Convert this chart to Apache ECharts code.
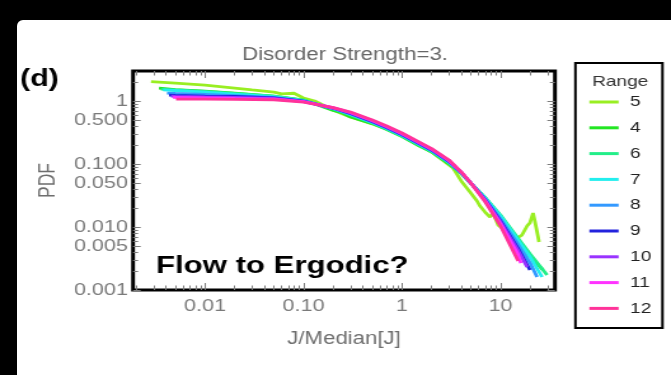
<!DOCTYPE html>
<html>
<head>
<meta charset="utf-8">
<script src="https://cdn.jsdelivr.net/npm/echarts@6/dist/echarts.min.js"></script>
<style>
  html, body { margin: 0; padding: 0; width: 671px; height: 375px; background: #000; overflow: hidden; }
  #paper { position: absolute; left: 17px; top: 20px; right: 0; bottom: 0; background: #fff; border-top-left-radius: 6px; }
  #chart { position: absolute; left: 0; top: 0; width: 528px; height: 375px; transform: scaleX(1.2708); transform-origin: 0 0; }
</style>
</head>
<body>
<div id="paper"></div>
<div id="chart"></div>
<script>
// Legend entries (system range) and their line colours
const rangeNames  = ['5', '4', '6', '7', '8', '9', '10', '11', '12'];
const rangeColors = ['#99ee22', '#22e622', '#22ee88', '#22eeee', '#3399ff', '#2222dd', '#9933ff', '#ff33ff', '#ff3399'];

// PDF curves: pairs of [J/Median[J], PDF]
const range5 = [[0.00283, 2.04], [0.005, 1.93], [0.01, 1.79], [0.02, 1.61], [0.03, 1.50], [0.05, 1.39], [0.06, 1.30],
  [0.08, 1.33], [0.1, 1.12], [0.13, 1.00], [0.2, 0.720], [0.25, 0.622], [0.3, 0.557], [0.5, 0.431], [0.7, 0.359],
  [1, 0.278], [1.5, 0.200], [2, 0.155], [3, 0.0964], [3.3, 0.0864], [4.06, 0.0518], [4.9, 0.0359], [5.77, 0.0259],
  [6.19, 0.0215], [6.96, 0.0173], [7.82, 0.0144], [8.39, 0.0167], [9.43, 0.0108], [11.6, 0.00834], [13.1, 0.00720],
  [14.7, 0.00669], [16.5, 0.00746], [18.6, 0.0104], [19.9, 0.0116], [21.4, 0.0167], [22.4, 0.0120], [23.5, 0.00834],
  [24.6, 0.00578]];
const range4 = [[0.00341, 1.61], [0.005, 1.52], [0.01, 1.44], [0.02, 1.34], [0.05, 1.20], [0.1, 1.037], [0.2, 0.707],
  [0.25, 0.645], [0.3, 0.557], [0.5, 0.439], [0.7, 0.353], [1, 0.273], [1.5, 0.193], [2, 0.155], [3, 0.100],
  [4, 0.0707], [5, 0.0490], [7, 0.0289], [10, 0.0150], [15, 0.00622], [20, 0.00334], [27.0, 0.00208]];
const range6 = [[0.00357, 1.55], [0.005, 1.50], [0.01, 1.42], [0.02, 1.32], [0.05, 1.20], [0.1, 1.037], [0.2, 0.746],
  [0.3, 0.599], [0.5, 0.447], [0.7, 0.359], [1, 0.278], [1.5, 0.200], [2, 0.158], [3, 0.104], [4, 0.0707],
  [5, 0.0499], [7, 0.0294], [10, 0.0155], [15, 0.00669], [20, 0.00373], [29.7, 0.00173]];
const range7 = [[0.00375, 1.50], [0.005, 1.47], [0.01, 1.39], [0.02, 1.29], [0.05, 1.18], [0.1, 1.018], [0.2, 0.760],
  [0.3, 0.610], [0.5, 0.456], [0.7, 0.366], [1, 0.283], [1.5, 0.204], [2, 0.161], [3, 0.106], [4, 0.0720],
  [5, 0.0499], [7, 0.0289], [10, 0.0150], [15, 0.00622], [20, 0.00334], [26.4, 0.00161]];
const range8 = [[0.00411, 1.34], [0.005, 1.32], [0.01, 1.27], [0.02, 1.22], [0.05, 1.14], [0.1, 1.0], [0.2, 0.760],
  [0.3, 0.622], [0.5, 0.464], [0.7, 0.373], [1, 0.289], [1.5, 0.208], [2, 0.164], [3, 0.108], [4, 0.0720],
  [5, 0.0499], [7, 0.0278], [10, 0.0134], [15, 0.00537], [20, 0.00268], [23.5, 0.00161]];
const range9 = [[0.00431, 1.245], [0.005, 1.23], [0.01, 1.20], [0.02, 1.18], [0.05, 1.12], [0.1, 1.0], [0.2, 0.774],
  [0.3, 0.633], [0.5, 0.473], [0.7, 0.380], [1, 0.294], [1.5, 0.211], [2, 0.167], [3, 0.110], [4, 0.0733],
  [5, 0.0499], [7, 0.0268], [10, 0.0125], [15, 0.00464], [19.9, 0.00208]];
const range10 = [[0.00452, 1.20], [0.005, 1.19], [0.01, 1.16], [0.02, 1.14], [0.05, 1.10], [0.1, 0.982], [0.2, 0.774],
  [0.3, 0.645], [0.5, 0.481], [0.7, 0.387], [1, 0.299], [1.5, 0.215], [2, 0.170], [3, 0.112], [4, 0.0733],
  [5, 0.0499], [7, 0.0263], [10, 0.0120], [15, 0.00431], [18.6, 0.00232]];
const range11 = [[0.00473, 1.14], [0.005, 1.13], [0.01, 1.12], [0.02, 1.10], [0.05, 1.076], [0.1, 0.982], [0.2, 0.788],
  [0.3, 0.657], [0.5, 0.490], [0.7, 0.394], [1, 0.305], [1.5, 0.219], [2, 0.173], [3, 0.1137], [4, 0.0746],
  [5, 0.0499], [7, 0.0259], [10, 0.0112], [15, 0.00373], [16.1, 0.00268]];
const range12 = [[0.00508, 1.076], [0.01, 1.076], [0.02, 1.064], [0.05, 1.049], [0.1, 0.964], [0.2, 0.788],
  [0.3, 0.669], [0.5, 0.499], [0.7, 0.401], [1, 0.311], [1.5, 0.223], [2, 0.176], [3, 0.116], [4, 0.0746],
  [5, 0.0499], [7, 0.0249], [10, 0.0104], [15.1, 0.00289]];
const curves = [range5, range4, range6, range7, range8, range9, range10, range11, range12];

// Axis extents and labelled ticks (log-log frame)
const xRange = [0.00186, 35.7];
const yRange = [0.001, 3.0];
const xTickValues = [0.01, 0.1, 1, 10];
const xTickLabels = ['0.01', '0.10', '1', '10'];
const yTickValues = [1, 0.5, 0.1, 0.05, 0.01, 0.005, 0.001];
const yTickLabels = ['1', '0.500', '0.100', '0.050', '0.010', '0.005', '0.001'];

const titleText = 'Disorder Strength=3.';
const xName = 'J/Median[J]';
const yName = 'PDF';
const panelTag = '(d)';
const noteText = 'Flow to Ergodic?';
const legendTitle = 'Range';

const FONT = '"Liberation Sans", Arial, Helvetica, sans-serif';
const L = Math.log10;

// Unlabelled log ticks: 2..9 within each decade
function minorTicks(lo, hi) {
  const out = [];
  for (let d = Math.floor(L(lo)) - 1; d <= Math.ceil(L(hi)); d++) {
    for (let m = 2; m <= 9; m++) {
      const v = m * Math.pow(10, d);
      if (v > lo && v < hi) out.push(L(v));
    }
  }
  return out;
}
function labelFor(values, labels) {
  return function (v) {
    for (let i = 0; i < values.length; i++) {
      if (Math.abs(L(values[i]) - v) < 1e-6) return labels[i];
    }
    return '';
  };
}

const xMajor = xTickValues.map(L);
const yMajor = yTickValues.map(L);
const yMinorAll = minorTicks(yRange[0], yRange[1]).filter(v => !yMajor.some(m => Math.abs(m - v) < 1e-6));
const xMinorAll = minorTicks(xRange[0], xRange[1]);

const tickColor = '#7d7d7d';
const labelColor = '#7a7a7a';

function xAxisDef(pos, ticks, len, withLabels) {
  return {
    type: 'value', position: pos, min: L(xRange[0]), max: L(xRange[1]),
    axisLine: { show: false, onZero: false }, splitLine: { show: false },
    axisTick: { show: true, inside: true, length: len, customValues: ticks, lineStyle: { color: tickColor, width: 1 } },
    axisLabel: withLabels ? {
      show: true, customValues: xMajor, formatter: labelFor(xTickValues, xTickLabels),
      margin: 8, color: labelColor, fontSize: 17, fontFamily: FONT
    } : { show: false },
    name: withLabels ? xName : '', nameLocation: 'middle', nameGap: 40,
    nameTextStyle: { color: '#6e6e6e', fontSize: 17.5, fontFamily: FONT },
    z: 10
  };
}
function yAxisDef(pos, ticks, len, withLabels) {
  return {
    type: 'value', position: pos, min: L(yRange[0]), max: L(yRange[1]),
    axisLine: { show: false, onZero: false }, splitLine: { show: false },
    axisTick: { show: true, inside: true, length: len, customValues: ticks, lineStyle: { color: tickColor, width: 1 } },
    axisLabel: withLabels ? {
      show: true, customValues: yMajor, formatter: labelFor(yTickValues, yTickLabels),
      margin: 4, color: labelColor, fontSize: 17, fontFamily: FONT
    } : { show: false },
    name: withLabels ? yName : '', nameLocation: 'middle', nameGap: 57,
    nameTextStyle: { color: '#6e6e6e', fontSize: 17.5, fontFamily: FONT },
    z: 10
  };
}

const chart = echarts.init(document.getElementById('chart'), null, { renderer: 'canvas' });

chart.setOption({
  animation: false,
  backgroundColor: 'transparent',
  grid: {
    left: 104.7, right: 91.3, top: 71, bottom: 85,
    show: true, borderColor: '#000', borderWidth: 3, backgroundColor: 'transparent'
  },
  xAxis: [
    xAxisDef('bottom', xMajor, 7, true),
    xAxisDef('bottom', xMinorAll, 4.5, false),
    xAxisDef('top', xMajor, 7, false),
    xAxisDef('top', xMinorAll, 4.5, false)
  ],
  yAxis: [
    yAxisDef('left', yMajor, 6, true),
    yAxisDef('left', yMinorAll, 4, false),
    yAxisDef('right', yMajor, 6, false),
    yAxisDef('right', yMinorAll, 4, false)
  ],
  legend: {
    orient: 'vertical', left: 463.8, top: 94, padding: 0,
    icon: 'rect', itemWidth: 23, itemHeight: 3, itemGap: 9.8,
    selectedMode: false,
    data: rangeNames,
    textStyle: { fontSize: 15, lineHeight: 16, color: '#222', fontFamily: FONT, padding: [0, 0, 0, 4] }
  },
  graphic: [
    { type: 'rect', z: 0, shape: { x: 452.8, y: 63, width: 68.5, height: 265 },
      style: { fill: '#fff', stroke: '#000', lineWidth: 2 } },
    { type: 'text', z: 5, style: { text: legendTitle, x: 488, y: 82, textAlign: 'center', textVerticalAlign: 'middle',
      font: '15px ' + FONT, fill: '#333' } },
    { type: 'text', z: 5, style: { text: titleText, x: 271.5, y: 55, textAlign: 'center', textVerticalAlign: 'middle',
      font: '17.5px ' + FONT, fill: '#666' } },
    { type: 'text', z: 5, style: { text: panelTag, x: 15.7, y: 79, textAlign: 'left', textVerticalAlign: 'middle',
      font: 'bold 24px ' + FONT, fill: '#000' } },
    { type: 'text', z: 5, style: { text: noteText, x: 122.8, y: 266, textAlign: 'left', textVerticalAlign: 'middle',
      font: 'bold 24.5px ' + FONT, fill: '#000' } }
  ],
  series: curves.map((pts, i) => ({
    name: rangeNames[i],
    type: 'line',
    xAxisIndex: 0, yAxisIndex: 0,
    showSymbol: false, symbol: 'none',
    clip: true,
    lineStyle: { width: 2.8, color: rangeColors[i] },
    itemStyle: { color: rangeColors[i] },
    data: pts.map(p => [L(p[0]), L(p[1])])
  }))
});
</script>
</body>
</html>
